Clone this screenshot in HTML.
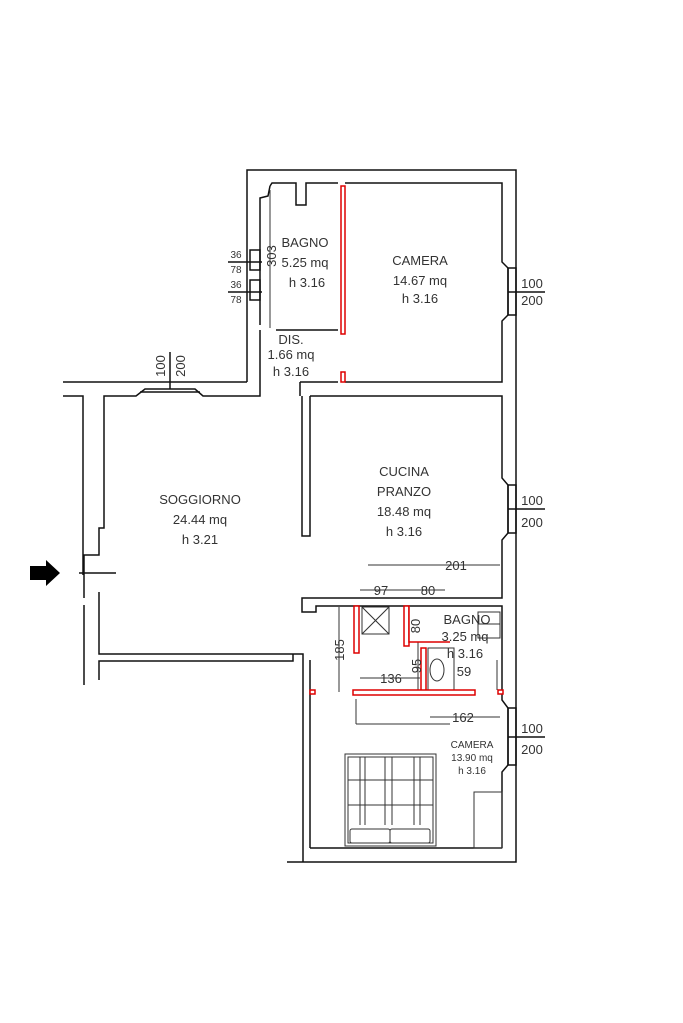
<!DOCTYPE html>
<html><head><meta charset="utf-8"><style>
html,body{margin:0;padding:0;background:#fff;}
svg{display:block}
text{font-family:"Liberation Sans",sans-serif;fill:#333;}
</style></head><body>
<svg width="683" height="1023" viewBox="0 0 683 1023" xmlns="http://www.w3.org/2000/svg">
<g fill="none" stroke="#111" stroke-width="1.5">
<!-- top block outer -->
<polyline points="247,382 247,170 516,170 516,862 287,862"/>
<!-- bagno/upper inner -->
<polyline points="270,186 272,183 296,183 296,205 306,205 306,183 338,183"/>
<polyline points="260,325 260,198 268,196 270,186"/>
<line x1="276" y1="330" x2="338" y2="330"/>
<polyline points="260,330 260,396 203,396 195,389 145,389 136,396 104,396 104,528 99,528 99,555 84,555 84,598"/>
<polyline points="63,382 247,382"/>
<polyline points="63,396 83,396 83,575"/>
<!-- camera -->
<polyline points="345,183 502,183 502,262 508,268 508,315 502,321 502,382 345,382"/>
<polyline points="300,382 338,382"/>
<polyline points="300,382 300,396"/>
<!-- window right camera -->
<rect x="508" y="268" width="8" height="47"/>
<!-- cucina -->
<polyline points="310,396 502,396 502,478 508,485 508,533 502,540 502,598 316,598"/>
<rect x="508" y="485" width="8" height="48"/>
<polyline points="302,396 302,536 310,536 310,396"/>
<!-- pillar -->
<polyline points="316,598 302,598 302,612 316,612 316,606 502,606 502,700 508,708 508,765 502,772 502,848"/>
<rect x="508" y="708" width="8" height="57"/>
<!-- lower-left -->
<polyline points="84,605 84,685"/>
<polyline points="99,592 99,654 303,654 303,862"/>
<polyline points="99,680 99,661 293,661 293,654"/>
<line x1="310" y1="660" x2="310" y2="848"/>
<line x1="310" y1="848" x2="502" y2="848"/>
<!-- entry -->
<line x1="79" y1="573" x2="116" y2="573"/>
<!-- windows top soggiorno -->
<line x1="170" y1="352" x2="170" y2="389"/>
<line x1="140" y1="392" x2="200" y2="392"/>
<!-- left windows bagno -->
<rect x="250" y="250" width="10" height="20"/>
<rect x="250" y="280" width="10" height="20"/>
<line x1="228" y1="262" x2="262" y2="262"/>
<line x1="228" y1="292" x2="262" y2="292"/>
<!-- right window ticks -->
<line x1="508" y1="292" x2="545" y2="292"/>
<line x1="508" y1="509" x2="545" y2="509"/>
<line x1="508" y1="737" x2="545" y2="737"/>
</g>
<g fill="none" stroke="#333" stroke-width="1">
<line x1="270" y1="190" x2="270" y2="328"/>
<!-- small bathroom -->
<rect x="362" y="607" width="27" height="27"/>
<line x1="362" y1="607" x2="389" y2="634"/><line x1="389" y1="607" x2="362" y2="634"/>
<line x1="339" y1="607" x2="339" y2="692"/>
<line x1="356" y1="699" x2="356" y2="724"/><line x1="356" y1="724" x2="450" y2="724"/>
<rect x="428" y="648" width="26" height="42"/>
<ellipse cx="437" cy="670" rx="7" ry="11"/>
<rect x="478" y="612" width="22" height="12"/>
<rect x="478" y="624" width="22" height="14"/>
<line x1="497" y1="660" x2="497" y2="690"/>
<rect x="474" y="792" width="28" height="56"/>
<!-- dims -->
<line x1="368" y1="565" x2="500" y2="565"/>
<line x1="360" y1="590" x2="445" y2="590"/>
<line x1="360" y1="678" x2="420" y2="678"/>
<line x1="430" y1="717" x2="500" y2="717"/>
<line x1="418" y1="640" x2="418" y2="690"/>
<!-- bed -->
<rect x="345" y="754" width="91" height="92"/>
<rect x="348" y="757" width="85" height="86"/>
<line x1="348" y1="780" x2="433" y2="780"/><line x1="348" y1="805" x2="433" y2="805"/>
<line x1="360" y1="757" x2="360" y2="825"/><line x1="365" y1="757" x2="365" y2="825"/>
<line x1="385" y1="757" x2="385" y2="825"/><line x1="392" y1="757" x2="392" y2="825"/>
<line x1="414" y1="757" x2="414" y2="825"/><line x1="420" y1="757" x2="420" y2="825"/>
<rect x="350" y="829" width="40" height="14" rx="2"/><rect x="390" y="829" width="40" height="14" rx="2"/>
</g>
<g fill="#fff" stroke="#d00" stroke-width="1.5">
<rect x="341" y="186" width="4" height="148"/>
<rect x="341" y="372" width="4" height="10"/>
<rect x="354" y="606" width="5" height="47"/>
<rect x="404" y="606" width="5" height="40"/>
<polyline points="409,606 409,642 450,642"/>
<rect x="421" y="648" width="5" height="45"/>
<rect x="353" y="690" width="122" height="5"/>
<rect x="310" y="690" width="5" height="4"/>
<rect x="498" y="690" width="5" height="4"/>
</g>
<path d="M30 566 h16 v-6 l14 13 l-14 13 v-6 h-16z" fill="#000"/>
<g font-size="13" text-anchor="middle">
<text x="305" y="247">BAGNO</text><text x="305" y="267">5.25 mq</text><text x="307" y="287">h 3.16</text>
<text x="420" y="265">CAMERA</text><text x="420" y="285">14.67 mq</text><text x="420" y="303">h 3.16</text>
<text x="291" y="344">DIS.</text><text x="291" y="359">1.66 mq</text><text x="291" y="376">h 3.16</text>
<text x="200" y="504">SOGGIORNO</text><text x="200" y="524">24.44 mq</text><text x="200" y="544">h 3.21</text>
<text x="404" y="476">CUCINA</text><text x="404" y="496">PRANZO</text><text x="404" y="516">18.48 mq</text><text x="404" y="536">h 3.16</text>
<text x="467" y="624">BAGNO</text><text x="465" y="641">3.25 mq</text><text x="465" y="658">h 3.16</text>
<text x="456" y="570">201</text><text x="381" y="595">97</text><text x="428" y="595">80</text>
<text x="391" y="683">136</text><text x="464" y="676">59</text><text x="463" y="722">162</text>
<text x="532" y="288">100</text><text x="532" y="305">200</text>
<text x="532" y="505">100</text><text x="532" y="527">200</text>
<text x="532" y="733">100</text><text x="532" y="754">200</text>
</g>
<g font-size="10" text-anchor="middle">
<text x="472" y="748">CAMERA</text><text x="472" y="761">13.90 mq</text><text x="472" y="774">h 3.16</text>
<text x="236" y="258">36</text><text x="236" y="273">78</text><text x="236" y="288">36</text><text x="236" y="303">78</text>
</g>
<g font-size="13" text-anchor="middle">
<text transform="translate(165,366) rotate(-90)">100</text>
<text transform="translate(185,366) rotate(-90)">200</text>
<text transform="translate(276,256) rotate(-90)">303</text>
<text transform="translate(344,650) rotate(-90)">185</text>
<text transform="translate(420,626) rotate(-90)">80</text>
<text transform="translate(421,666) rotate(-90)">95</text>
</g>
</svg>
</body></html>
